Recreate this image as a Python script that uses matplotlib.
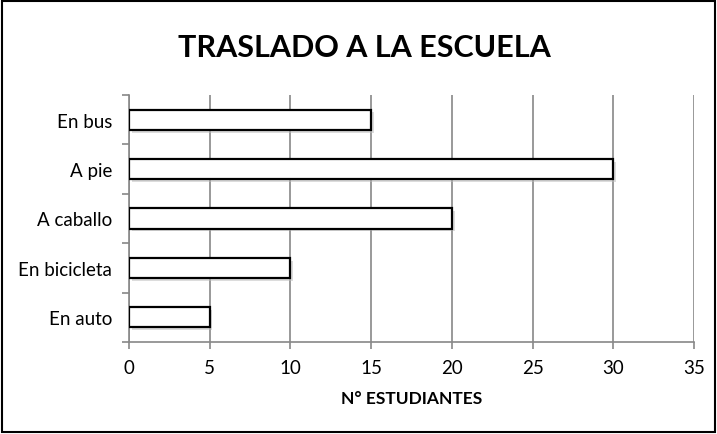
import matplotlib
matplotlib.use("Agg")
import matplotlib.pyplot as plt
import matplotlib.patheffects as pe
from matplotlib.patches import Rectangle

categories = ["En auto", "En bicicleta", "A caballo", "A pie", "En bus"]
values = [5, 10, 20, 30, 15]
xticks = [0, 5, 10, 15, 20, 25, 30, 35]

plt.rcParams['font.family'] = ['Lato', 'DejaVu Sans']

fig = plt.figure(figsize=(7.17, 4.35), dpi=100)
ax = fig.add_axes([129/717, 1-343/435, (694-129)/717, (343-96)/435])

ypos = list(range(len(categories)))
bars = ax.barh(ypos, values, height=0.41, color='white', edgecolor='black',
               linewidth=1.6, zorder=3)
for b in bars:
    b.set_path_effects([pe.SimplePatchShadow(offset=(2, -2), shadow_rgbFace='#bbbbbb', alpha=0.5), pe.Normal()])

ax.set_xlim(0, 35)
ax.set_ylim(-0.5, len(categories) - 0.5)
ax.set_xticks(xticks)
ax.set_xticklabels([str(v) for v in xticks], fontsize=13.5)
ax.set_yticks(ypos)
ax.set_yticks([i - 0.5 for i in range(len(categories) + 1)], minor=True)
ax.set_yticklabels(categories, fontsize=13.5)
ax.tick_params(axis='y', which='major', length=0, pad=12)
ax.tick_params(axis='y', which='minor', length=5, color='#888888', width=1.2)
ax.tick_params(axis='x', which='major', length=5, color='#888888', width=1.2, pad=7)
ax.grid(axis='x', color='#888888', linewidth=1.2, zorder=0)
ax.set_axisbelow(True)
for s in ['top', 'right']:
    ax.spines[s].set_visible(False)
for s in ['left', 'bottom']:
    ax.spines[s].set_color('#888888')
    ax.spines[s].set_linewidth(1.2)

ax.set_xlabel("N° ESTUDIANTES", fontsize=12.5, fontweight='bold', labelpad=10)
fig.text(0.508, 1-48/435, "TRASLADO A LA ESCUELA", fontsize=22, fontweight='bold',
         ha='center', va='center')

fig.patches.append(Rectangle((2/717, 2/435), 713/717, 431/435, transform=fig.transFigure,
                             fill=False, edgecolor='black', linewidth=1.5))

fig.savefig("out.png", dpi=100)
